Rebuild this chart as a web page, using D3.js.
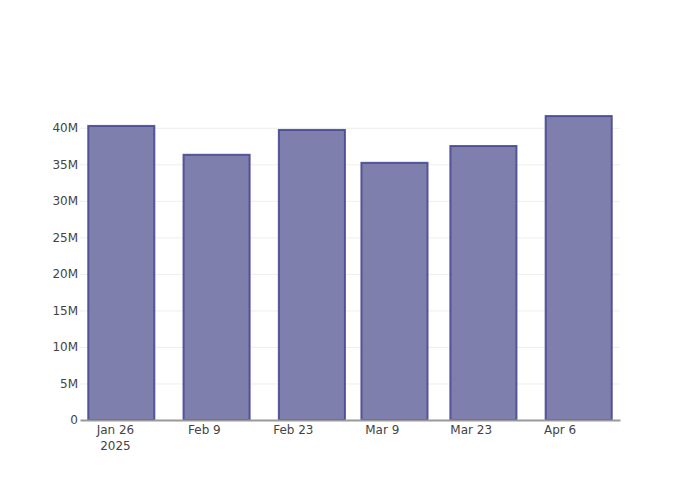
<!DOCTYPE html>
<html>
<head>
<meta charset="utf-8">
<script src="https://cdn.jsdelivr.net/npm/d3@7"></script>
<style>
  html, body { margin: 0; padding: 0; background: #fff; }
  svg { display: block; }
  text { font-family: "DejaVu Sans", verdana, arial, sans-serif; }
</style>
</head>
<body>
<svg id="chart" width="700" height="500"></svg>
<script>
// ---- data ----
const dates = ["2025-01-27", "2025-02-11", "2025-02-26", "2025-03-11", "2025-03-25", "2025-04-09"];
const values = [40.25e6, 36.3e6, 39.7e6, 35.2e6, 37.5e6, 41.6e6];
const xTickDates = ["2025-01-26", "2025-02-09", "2025-02-23", "2025-03-09", "2025-03-23", "2025-04-06"];
const xTickLabels = ["Jan 26\n2025", "Feb 9", "Feb 23", "Mar 9", "Mar 23", "Apr 6"];
const yTicks = [0, 5e6, 10e6, 15e6, 20e6, 25e6, 30e6, 35e6, 40e6];
const yTickLabels = ["0", "5M", "10M", "15M", "20M", "25M", "30M", "35M", "40M"];

// ---- layout ----
const margin = {left: 80, right: 80, top: 100, bottom: 80};
const W = 700, H = 500;
const DAY = 864e5;
const parse = s => new Date(s + "T00:00:00Z");
const xDates = dates.map(parse);

const x = d3.scaleUtc()
  .domain([new Date(+xDates[0] - 6.5 * DAY), new Date(+xDates[xDates.length - 1] + 6.5 * DAY)])
  .range([margin.left, W - margin.right]);
const y = d3.scaleLinear()
  .domain([0, 43.8e6])
  .range([H - margin.bottom, margin.top]);

// bar width: 0.8 * min spacing
let minGap = Infinity;
for (let i = 1; i < xDates.length; i++) minGap = Math.min(minGap, xDates[i] - xDates[i - 1]);
const barW = x(new Date(+xDates[0] + minGap * 0.8)) - x(xDates[0]);

const svg = d3.select("#chart");

// gridlines
const yAxis = d3.axisLeft(y)
  .tickValues(yTicks)
  .tickSize(-(W - margin.left - margin.right))
  .tickFormat((d, i) => yTickLabels[i])
  .tickPadding(2);
const gy = svg.append("g")
  .attr("transform", `translate(${margin.left},0)`)
  .call(yAxis);
gy.select(".domain").remove();
gy.selectAll(".tick line")
  .attr("stroke", "#eeeeee")
  .attr("stroke-width", 1)
  .filter(d => d === 0).remove();
gy.selectAll(".tick text")
  .attr("fill", "#444")
  .attr("font-size", 12)
  .attr("x", -2);

// bars
svg.append("g").selectAll("rect")
  .data(values)
  .join("rect")
  .attr("x", (d, i) => x(xDates[i]) - barW / 2)
  .attr("width", barW)
  .attr("y", d => y(d))
  .attr("height", d => y(0) - y(d))
  .attr("fill", "rgb(127,127,174)")
  .attr("stroke", "rgb(72,72,146)")
  .attr("stroke-opacity", 0.9)
  .attr("stroke-width", 2);

// x axis
const xAxis = d3.axisBottom(x)
  .tickValues(xTickDates.map(parse))
  .tickSize(0)
  .tickFormat("");
const gx = svg.append("g")
  .attr("transform", `translate(0,${H - margin.bottom})`)
  .call(xAxis);
gx.select(".domain")
  .attr("stroke", "#999")
  .attr("stroke-width", 2);
gx.selectAll(".tick").each(function(d, i) {
  const lines = xTickLabels[i].split("\n");
  const t = d3.select(this).append("text")
    .attr("fill", "#444")
    .attr("font-size", 12)
    .attr("text-anchor", "middle")
    .attr("y", 14);
  lines.forEach((ln, j) => {
    t.append("tspan").attr("x", 0).attr("dy", j === 0 ? 0 : 16).text(ln);
  });
});
</script>
</body>
</html>
